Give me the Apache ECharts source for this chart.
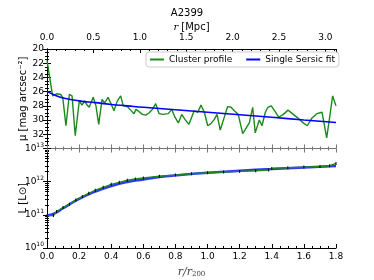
<!DOCTYPE html>
<html><head><meta charset="utf-8">
<script src="https://cdn.jsdelivr.net/npm/echarts@6/dist/echarts.min.js"></script>
<style>html,body{margin:0;padding:0;background:#fff}#c{width:374px;height:280px}</style>
</head><body><div id="c"></div>
<script>
// Upper panel: surface brightness profile (r/r200, mu)
const profR = [0.0,0.035,0.06,0.085,0.098,0.118,0.139,0.156,0.176,0.201,0.218,0.235,0.247,0.263,0.288,0.305,0.322,0.343,0.359,0.38,0.397,0.417,0.438,0.459,0.475,0.5,0.521,0.542,0.554,0.567,0.594,0.615,0.635,0.656,0.677,0.698,0.722,0.755,0.777,0.797,0.818,0.839,0.859,0.884,0.917,0.939,0.959,0.98,1.001,1.021,1.042,1.059,1.079,1.1,1.125,1.146,1.167,1.191,1.219,1.26,1.281,1.297,1.322,1.339,1.36,1.376,1.397,1.418,1.443,1.472,1.501,1.534,1.568,1.596,1.621,1.651,1.68,1.713,1.742,1.758,1.779,1.8];
const profMu = [21.6,26.6,26.3,26.4,26.8,30.8,26.4,26.6,32.2,27.3,27.9,27.3,27.8,28.2,26.8,28.0,30.6,27.1,27.6,26.8,27.6,28.7,27.3,26.6,28.0,28.1,28.6,29.1,28.5,28.7,29.2,29.3,29.0,28.5,27.7,29.1,29.2,29.1,28.5,29.6,30.4,29.2,29.9,30.6,28.7,28.9,27.9,28.9,30.8,30.5,29.9,29.2,31.4,29.9,28.1,28.2,28.7,29.2,31.9,30.4,28.2,31.8,30.0,30.8,28.9,28.2,28.0,28.7,29.6,29.2,28.6,29.2,29.8,30.4,30.8,29.7,29.1,28.9,32.5,30.0,26.6,28.0];
const fitR = [0,0.05,0.1,0.2,0.3,0.4,0.5,0.6,0.8,1.0,1.2,1.4,1.6,1.8];
const fitMu = [26.0,26.5,26.9,27.3,27.55,27.8,28.0,28.2,28.55,28.9,29.25,29.6,30.0,30.35];
// Lower panel: cumulative luminosity
const lumR = [0.0,0.04,0.06,0.1,0.14,0.18,0.22,0.26,0.3,0.35,0.4,0.45,0.5,0.55,0.6,0.7,0.8,0.9,1.0,1.1,1.2,1.3,1.38,1.4,1.5,1.6,1.7,1.76,1.8];
const lumL = [9.3e10,9.5e10,1.26e11,1.66e11,2.09e11,2.82e11,3.55e11,4.47e11,5.5e11,6.76e11,8.3e11,9.55e11,1.1e12,1.2e12,1.29e12,1.45e12,1.58e12,1.74e12,1.86e12,1.95e12,2.04e12,2.14e12,2.24e12,2.51e12,2.63e12,2.75e12,2.88e12,3.02e12,3.55e12];
const lumFitR = [0,0.05,0.1,0.2,0.3,0.4,0.5,0.6,0.7,0.8,1.0,1.2,1.4,1.6,1.8];
const lumFitL = [9.5e10,1.12e11,1.58e11,3.02e11,5.0e11,7.4e11,9.8e11,1.17e12,1.38e12,1.55e12,1.86e12,2.14e12,2.4e12,2.69e12,2.95e12];
const muTicks = [20,22,24,26,28,30,32];
const mpcMax = 3.114;

const zip = (a,b) => a.map((v,i)=>[v,b[i]]);
const F = 'DejaVu Sans';
const lab = {color:'#000', fontSize:9, fontFamily:F};
const ax = {lineStyle:{color:'#000', width:1}};
const tickIn = {inside:true, length:4, lineStyle:{color:'#000'}};
const minorIn = {show:true, length:2, lineStyle:{color:'#000'}};
const supRich = {b:{fontSize:9, fontFamily:F, color:'#000'}, s:{fontSize:6, fontFamily:F, color:'#000', verticalAlign:'bottom', padding:[0,0,7,0]}};
const logFmt = v => '{b|10}{s|' + Math.round(Math.log10(v)) + '}';

const chart = echarts.init(document.getElementById('c'), null, {renderer:'canvas'});
chart.setOption({
  animation:false,
  title:{text:'A2399', left:'center', top:3, textStyle:{fontFamily:F, fontSize:10, fontWeight:'normal', color:'#000'}},
  legend:{left:146, top:52, itemWidth:14, itemHeight:2, itemGap:14,
    backgroundColor:'#fff', borderColor:'#ccc', borderWidth:1, borderRadius:3, padding:[3,4,3,4],
    textStyle:{fontFamily:F, fontSize:9, color:'#000'},
    data:[{name:'Cluster profile', icon:'rect', itemStyle:{color:'#1a8a1a'}},{name:'Single Sersic fit', icon:'rect', itemStyle:{color:'#0000ff'}}]},
  grid:[{left:47, right:38, top:49, height:99.5},{left:47, right:38, top:148.5, height:99.5}],
  xAxis:[
    {gridIndex:0, type:'value', min:0, max:1.8, interval:0.2, position:'bottom', axisLine:{lineStyle:{color:'#777'}},
      axisTick:{inside:true, length:4, lineStyle:{color:'#777'}}, minorTick:{show:true, splitNumber:4, length:2, lineStyle:{color:'#777'}},
      axisLabel:{show:false}, splitLine:{show:false}},
    {gridIndex:0, type:'value', min:0, max:mpcMax, interval:0.5, position:'top', axisLine:ax, axisTick:tickIn,
      minorTick:Object.assign({splitNumber:5}, minorIn), splitLine:{show:false},
      axisLabel:Object.assign({margin:7, formatter:v=>v.toFixed(1), showMaxLabel:false}, lab),
      name:'{i|r} [Mpc]', nameLocation:'middle', nameGap:17, nameMoveOverlap:false,
      nameTextStyle:{fontFamily:F, fontSize:10, color:'#000', rich:{i:{fontFamily:'DejaVu Serif', fontStyle:'italic', fontSize:10, color:'#000'}}}},
    {gridIndex:1, type:'value', min:0, max:1.8, interval:0.2, position:'bottom', axisLine:ax, axisTick:tickIn,
      minorTick:Object.assign({splitNumber:4}, minorIn), splitLine:{show:false},
      axisLabel:Object.assign({margin:4, formatter:v=>v.toFixed(1)}, lab),
      name:'{i|r/r}{sub|200}', nameLocation:'middle', nameGap:18, nameMoveOverlap:false,
      nameTextStyle:{rich:{i:{fontFamily:'DejaVu Serif', fontStyle:'italic', fontSize:11, color:'#444'}, sub:{fontFamily:'DejaVu Serif', fontSize:7, color:'#444', verticalAlign:'bottom', padding:[5,0,0,0]}}}},
    {gridIndex:1, type:'value', min:0, max:1.8, interval:0.2, position:'top', axisLine:{show:false},
      axisTick:{inside:true, length:4, lineStyle:{color:'#777'}}, minorTick:{show:true, splitNumber:4, length:2, lineStyle:{color:'#777'}},
      axisLabel:{show:false}, splitLine:{show:false}}
  ],
  yAxis:[
    {gridIndex:0, type:'value', inverse:true, min:20, max:34, interval:2, position:'left', axisLine:ax, axisTick:tickIn,
      minorTick:Object.assign({splitNumber:4}, minorIn), splitLine:{show:false},
      axisLabel:Object.assign({margin:3, formatter:v=>muTicks.indexOf(v)>=0?String(v):''}, lab),
      name:'\u03bc [mag arcsec\u207b\u00b2]', nameLocation:'middle', nameGap:19, nameMoveOverlap:false,
      nameTextStyle:{fontFamily:F, fontSize:10, color:'#000'}},
    {gridIndex:0, type:'value', inverse:true, min:20, max:34, interval:2, position:'right', axisLine:ax, axisTick:tickIn,
      minorTick:Object.assign({splitNumber:4}, minorIn), splitLine:{show:false}, axisLabel:{show:false}},
    {gridIndex:1, type:'log', logBase:10, min:1e10, max:1e13, position:'left', axisLine:ax, axisTick:tickIn,
      minorTick:Object.assign({splitNumber:9}, minorIn), splitLine:{show:false},
      axisLabel:{margin:3, formatter:logFmt, rich:supRich},
      name:'L [L\u2299]', nameLocation:'middle', nameGap:19, nameMoveOverlap:false,
      nameTextStyle:{fontFamily:F, fontSize:10, color:'#000'}},
    {gridIndex:1, type:'log', logBase:10, min:1e10, max:1e13, position:'right', axisLine:ax, axisTick:tickIn,
      minorTick:Object.assign({splitNumber:9}, minorIn), splitLine:{show:false}, axisLabel:{show:false}}
  ],
  series:[
    {name:'Cluster profile', type:'line', xAxisIndex:0, yAxisIndex:0, data:zip(profR, profMu), showSymbol:false, symbol:'none',
      lineStyle:{color:'#1a8a1a', width:1.4}, itemStyle:{color:'#1a8a1a'}, z:3},
    {name:'Single Sersic fit', type:'line', xAxisIndex:0, yAxisIndex:0, data:zip(fitR, fitMu), smooth:true, symbol:'none',
      lineStyle:{color:'#0000ff', width:1.6}, itemStyle:{color:'#0000ff'}, z:4},
    {name:'Single Sersic fit', type:'line', xAxisIndex:2, yAxisIndex:2, data:zip(lumFitR, lumFitL), smooth:true, symbol:'none',
      lineStyle:{color:'#0000ff', width:2.5, opacity:0.8}, itemStyle:{color:'#0000ff'}, z:3},
    {name:'Cluster profile', type:'line', xAxisIndex:2, yAxisIndex:2, data:zip(lumR, lumL), symbol:'rect', symbolSize:[1,3],
      itemStyle:{color:'#000'}, lineStyle:{color:'#1a8a1a', width:1.4}, z:4}
  ]
});
</script></body></html>
